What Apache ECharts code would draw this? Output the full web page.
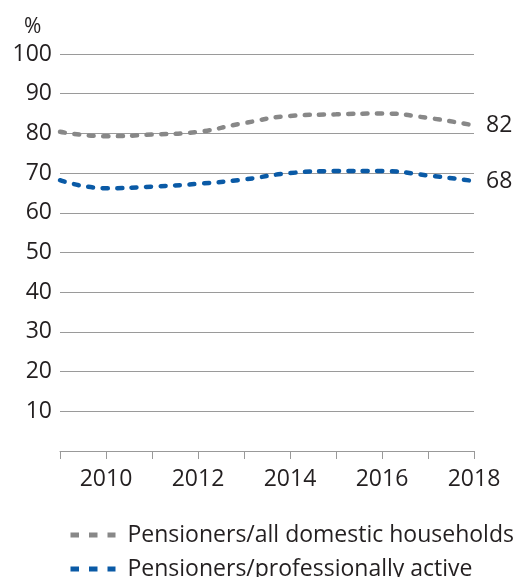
<!DOCTYPE html>
<html>
<head>
<meta charset="utf-8">
<script src="https://cdn.jsdelivr.net/npm/echarts@6/dist/echarts.min.js"></script>
<style>
  html, body { margin: 0; padding: 0; background: #fff; }
  #chart { width: 521px; height: 577px; }
</style>
</head>
<body>
<div id="chart"></div>
<script>
// Years on the horizontal axis
const years = ['2009', '2010', '2011', '2012', '2013', '2014', '2015', '2016', '2017', '2018'];

// Ratio of pensioner households, per cent
const allHouseholds = [80.4, 79.3, 79.7, 80.4, 82.6, 84.4, 84.8, 85.0, 83.9, 82];
const professionallyActive = [68.2, 66.2, 66.6, 67.3, 68.4, 70.0, 70.5, 70.5, 69.4, 68];

const seriesNames = ['Pensioners/all domestic households', 'Pensioners/professionally active'];
const seriesColors = ['#888888', '#0a5aa6'];

const FONT = '"Open Sans", sans-serif';
const TEXT = '#231f20';
const FS = 23;

function lineSeries(name, data, color) {
  return {
    name: name,
    type: 'line',
    data: data,
    smooth: 0.5,
    showSymbol: false,
    symbol: 'none',
    color: color,
    lineStyle: { color: color, width: 4.5, type: [5, 9.5], cap: 'round' },
    endLabel: {
      show: true,
      distance: 12,
      formatter: p => String(p.value),
      fontFamily: FONT,
      fontSize: FS,
      color: TEXT
    },
    emphasis: { disabled: true }
  };
}

// One legend row per series, stacked under the chart; the key is a short
// square-ended dashed stroke
function legendRow(i, top) {
  return {
    orient: 'horizontal',
    left: 68,
    top: top,
    padding: 0,
    itemWidth: 45,
    itemHeight: 5,
    selectedMode: false,
    textStyle: {
      fontFamily: FONT,
      fontSize: FS,
      color: TEXT,
      lineHeight: 26,
      padding: [0, 0, 0, 7]
    },
    data: [{
      name: seriesNames[i],
      itemStyle: { color: seriesColors[i], borderWidth: 0 },
      lineStyle: { color: seriesColors[i], width: 5, type: [8.5, 10], cap: 'butt' }
    }]
  };
}

const chart = echarts.init(document.getElementById('chart'), null, { renderer: 'canvas' });
chart.setOption({
  animation: false,
  backgroundColor: '#ffffff',
  grid: { left: 60, right: 47, top: 54, bottom: 126 },
  graphic: [{
    type: 'text',
    left: 24,
    top: 17,
    style: { text: '%', fontFamily: FONT, fontSize: 21, fill: TEXT }
  }],
  xAxis: {
    type: 'category',
    data: years,
    boundaryGap: false,
    axisLine: { show: true, lineStyle: { color: '#999999', width: 1 } },
    axisTick: { show: true, interval: 0, length: 8, lineStyle: { color: '#999999' } },
    axisLabel: {
      interval: (i, v) => Number(v) % 2 === 0,
      margin: 17,
      fontFamily: FONT,
      fontSize: FS,
      color: TEXT
    },
    splitLine: { show: false }
  },
  yAxis: {
    type: 'value',
    min: 0,
    max: 100,
    interval: 10,
    axisLine: { show: false },
    axisTick: { show: false },
    axisLabel: {
      margin: 8,
      fontFamily: FONT,
      fontSize: FS,
      color: TEXT,
      formatter: v => (v === 0 ? '' : String(v))
    },
    splitLine: { lineStyle: { color: '#9a9a9a', width: 1 } }
  },
  legend: [legendRow(0, 522), legendRow(1, 556)],
  series: [
    lineSeries(seriesNames[0], allHouseholds, seriesColors[0]),
    lineSeries(seriesNames[1], professionallyActive, seriesColors[1])
  ]
});
</script>
</body>
</html>
